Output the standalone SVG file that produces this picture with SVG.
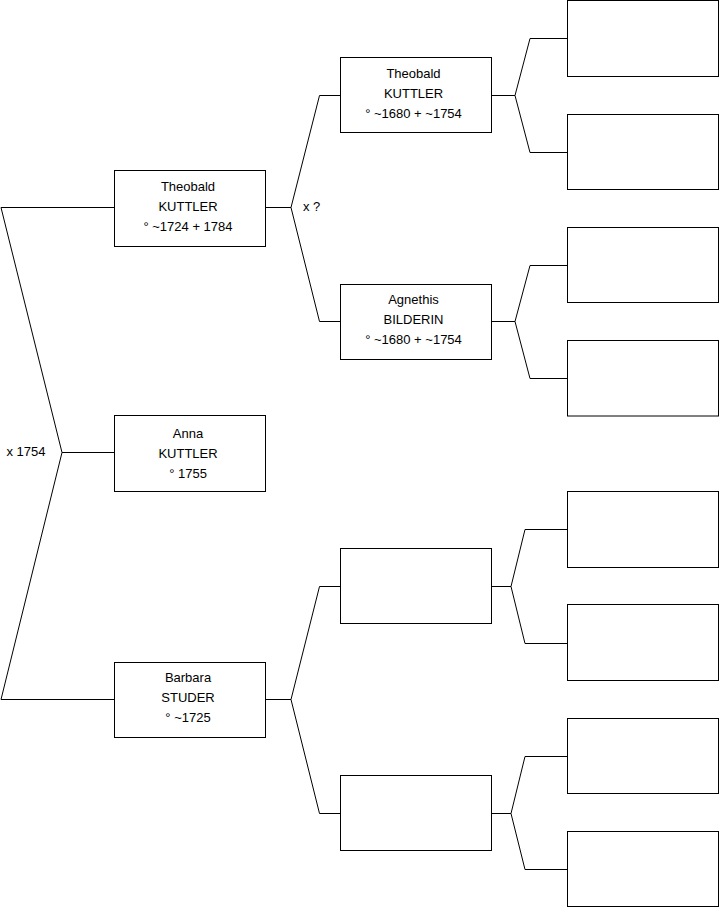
<svg xmlns="http://www.w3.org/2000/svg" width="719" height="908" viewBox="0 0 719 908">
<style>
.box{fill:#fff;stroke:#000;stroke-width:1}
.ln{fill:none;stroke:#000;stroke-width:1}
text{font-family:"Liberation Sans",Arial,sans-serif;font-size:13px;fill:#000}
.c{text-anchor:middle}
</style>
<rect width="719" height="908" fill="#fff"/>
<g id="connectors">
<path class="ln" d="M114.5,207.5 H1 L62,452.5 L1,699.5 H114.5 M62,452.5 H114.5"/>
<path class="ln" d="M265.5,207.5 H291 M340.5,95.5 H319.5 L291,207.5 L319.5,321.5 H340.5"/>
<path class="ln" d="M265.5,699.5 H291 M340.5,586.5 H319.5 L291,699.5 L319.5,813.5 H340.5"/>
<path class="ln" d="M491.5,95.5 H515 M567.5,38.5 H530 L515,95.5 L530,152.5 H567.5"/>
<path class="ln" d="M491.5,321.5 H515 M567.5,265.5 H530 L515,321.5 L530,378.5 H567.5"/>
<path class="ln" d="M491.5,586.5 H511 M567.5,529.5 H525 L511,586.5 L525,643.5 H567.5"/>
<path class="ln" d="M491.5,813.5 H511 M567.5,756.5 H525 L511,813.5 L525,869.5 H567.5"/>
<text x="6.5" y="456">x 1754</text>
<text x="303" y="211">x ?</text>
</g>
<g id="theobald1">
<rect class="box" x="114.5" y="170.5" width="151" height="76"/>
<text class="c" x="188" y="191">Theobald</text>
<text class="c" x="188" y="211">KUTTLER</text>
<text class="c" x="188" y="231">° ~1724 + 1784</text>
</g>
<g id="anna">
<rect class="box" x="114.5" y="415.5" width="151" height="76"/>
<text class="c" x="188" y="437.5">Anna</text>
<text class="c" x="188" y="457.5">KUTTLER</text>
<text class="c" x="188" y="477.5">° 1755</text>
</g>
<g id="barbara">
<rect class="box" x="114.5" y="662.5" width="151" height="75"/>
<text class="c" x="188" y="682">Barbara</text>
<text class="c" x="188" y="702">STUDER</text>
<text class="c" x="188" y="722">° ~1725</text>
</g>
<g id="theobald2">
<rect class="box" x="340.5" y="57.5" width="151" height="75"/>
<text class="c" x="413.5" y="77.5">Theobald</text>
<text class="c" x="413.5" y="97.5">KUTTLER</text>
<text class="c" x="413.5" y="117.5">° ~1680 + ~1754</text>
</g>
<g id="agnethis">
<rect class="box" x="340.5" y="284.5" width="151" height="75"/>
<text class="c" x="413.5" y="304">Agnethis</text>
<text class="c" x="413.5" y="324">BILDERIN</text>
<text class="c" x="413.5" y="344">° ~1680 + ~1754</text>
</g>
<g id="gen2c"><rect class="box" x="340.5" y="548.5" width="151" height="75"/></g>
<g id="gen2d"><rect class="box" x="340.5" y="775.5" width="151" height="75"/></g>
<g id="gen3a"><rect class="box" x="567.5" y="0.5" width="151" height="76"/></g>
<g id="gen3b"><rect class="box" x="567.5" y="114.5" width="151" height="75"/></g>
<g id="gen3c"><rect class="box" x="567.5" y="227.5" width="151" height="75"/></g>
<g id="gen3d"><rect class="box" x="567.5" y="340.5" width="151" height="75.5"/></g>
<g id="gen3e"><rect class="box" x="567.5" y="491.5" width="151" height="76"/></g>
<g id="gen3f"><rect class="box" x="567.5" y="604.5" width="151" height="76"/></g>
<g id="gen3g"><rect class="box" x="567.5" y="718.5" width="151" height="75"/></g>
<g id="gen3h"><rect class="box" x="567.5" y="831.5" width="151" height="75"/></g>
</svg>
